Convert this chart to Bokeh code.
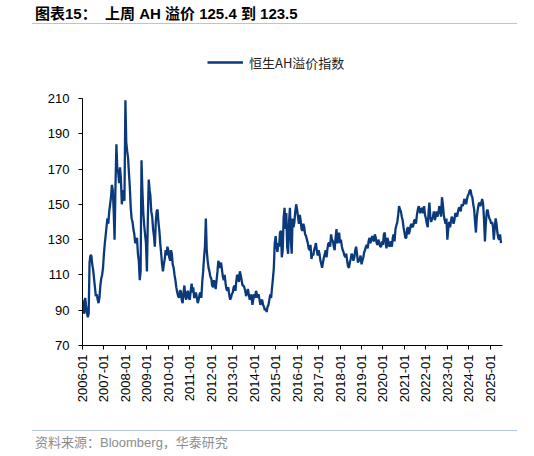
import pandas as pd
from datetime import datetime
from bokeh.plotting import figure
from bokeh.layouts import column
from bokeh.models import Div, Range1d, FixedTicker, DatetimeTickFormatter, Legend, LegendItem
from bokeh.embed import file_html
from bokeh.resources import INLINE

# 恒生AH溢价指数: value at the start of each month ...
ahp_2006 = [96, 88, 93, 86, 117, 121, 113, 103, 99, 94, 104, 110]
ahp_2007 = [122, 133, 142, 146, 154, 158, 130, 184, 168, 171, 150, 158]
ahp_2008 = [209, 180, 168, 148, 140, 133, 129, 122, 107, 175, 145, 133]
ahp_2009 = [112, 164, 155, 143, 132, 140, 147, 135, 122, 112, 119, 121]
ahp_2010 = [124, 118, 122, 114, 107, 100, 97, 101, 94, 104, 96, 101]
ahp_2011 = [96, 105, 103, 98, 97, 96, 100, 106, 120, 142, 118, 112]
ahp_2012 = [108, 103, 105, 107, 118, 114, 113, 107, 105, 101, 99, 97]
ahp_2013 = [100, 104, 106, 109, 112, 107, 104, 101, 100, 99, 97, 93]
ahp_2014 = [99, 101, 97, 96, 95, 93, 90, 89, 93, 99, 103, 114]
ahp_2015 = [132, 123, 126, 135, 124, 148, 145, 122, 148, 122, 137, 146]
ahp_2016 = [147, 139, 141, 135, 137, 132, 128, 124, 119, 121, 126, 124]
ahp_2017 = [124, 118, 114, 120, 124, 125, 128, 133, 129, 124, 136, 130]
ahp_2018 = [128, 126, 123, 120, 118, 114, 119, 121, 120, 126, 117, 119]
ahp_2019 = [116, 120, 124, 127, 129, 128, 132, 129, 131, 127, 128, 126]
ahp_2020 = [127, 134, 125, 129, 127, 126, 133, 136, 140, 149, 146, 141]
ahp_2021 = [134, 131, 137, 135, 139, 138, 141, 144, 149, 145, 147, 149]
ahp_2022 = [142, 137, 151, 140, 143, 141, 146, 145, 147, 154, 144, 139]
ahp_2023 = [130, 140, 140, 142, 141, 144, 146, 148, 150, 150, 152, 153]
ahp_2024 = [156, 158, 154, 147, 134, 147, 151, 151, 150, 129, 146, 144]
ahp_2025 = [141, 140, 130, 142, 134, 130, 128]

# ... and around the middle of each month (the wiggle between those points)
mid_2006 = [91, 97, 89, 88, 121, 116, 108, 98, 96, 97, 108, 114]
mid_2007 = [128, 138, 139, 150, 161, 146, 160, 170, 162, 165, 155, 152]
mid_2008 = [185, 176, 160, 142, 136, 128, 131, 118, 112, 158, 138, 128]
mid_2009 = [140, 158, 146, 136, 126, 146, 140, 128, 116, 116, 124, 126]
mid_2010 = [120, 124, 116, 110, 103, 98, 101, 96, 100, 98, 100, 97]
mid_2011 = [101, 100, 97, 100, 94, 99, 97, 112, 126, 124, 114, 109]
mid_2012 = [104, 107, 102, 112, 116, 117, 109, 110, 102, 103, 96, 99]
mid_2013 = [103, 101, 110, 106, 110, 104, 103, 98, 102, 96, 99, 96]
mid_2014 = [97, 99, 99, 93, 96, 92, 91, 92, 96, 97, 108, 128]
mid_2015 = [126, 128, 134, 120, 142, 136, 126, 140, 130, 142, 140, 150]
mid_2016 = [143, 144, 136, 139, 133, 130, 125, 127, 122, 124, 128, 121]
mid_2017 = [122, 116, 117, 122, 120, 128, 126, 130, 126, 131, 128, 134]
mid_2018 = [130, 124, 121, 122, 115, 117, 122, 118, 124, 122, 118, 121]
mid_2019 = [118, 123, 126, 125, 131, 130, 130, 133, 128, 130, 126, 129]
mid_2020 = [133, 128, 131, 126, 129, 131, 129, 138, 144, 147, 143, 137]
mid_2021 = [131, 136, 133, 138, 137, 141, 139, 147, 146, 148, 145, 144]
mid_2022 = [139, 146, 143, 142, 146, 143, 143, 149, 143, 150, 141, 142]
mid_2023 = [136, 137, 143, 139, 145, 143, 148, 146, 149, 153, 150, 155]
mid_2024 = [158, 155, 150, 140, 143, 150, 149, 153, 141, 139, 147, 142]
mid_2025 = [139, 137, 136, 139, 131, 133]

tick_years = list(range(2006, 2026))
y_ticks = [70, 90, 110, 130, 150, 170, 190, 210]

starts = (ahp_2006 + ahp_2007 + ahp_2008 + ahp_2009 + ahp_2010 + ahp_2011 + ahp_2012
          + ahp_2013 + ahp_2014 + ahp_2015 + ahp_2016 + ahp_2017 + ahp_2018 + ahp_2019
          + ahp_2020 + ahp_2021 + ahp_2022 + ahp_2023 + ahp_2024 + ahp_2025)
mids = (mid_2006 + mid_2007 + mid_2008 + mid_2009 + mid_2010 + mid_2011 + mid_2012
        + mid_2013 + mid_2014 + mid_2015 + mid_2016 + mid_2017 + mid_2018 + mid_2019
        + mid_2020 + mid_2021 + mid_2022 + mid_2023 + mid_2024 + mid_2025)
month_starts = pd.date_range("2006-01-01", periods=len(starts), freq="MS")

dates, values = [], []
for i, d in enumerate(month_starts):
    dates.append(d)
    values.append(starts[i])
    if i < len(mids):
        dates.append(d + pd.Timedelta(days=15))
        values.append(mids[i])

NAVY = "#0b3a7c"
RULE = "#b4c6dc"

title = Div(
    text='<div style="margin-left:32px;width:485px;height:24px;padding:8px 0 0 3px;'
         'border-bottom:1px solid %s;font:bold 15px \'Liberation Sans\',\'Noto Sans CJK SC\';'
         'line-height:12px;color:#000;white-space:pre;">图表15：  上周 AH 溢价 125.4 到 123.5</div>' % RULE,
    width=534, height=27, margin=0)

# frame runs up to 240 so the legend can sit inside it; the axis itself stops at 210
p = figure(width=518, height=400, x_axis_type="datetime",
           output_backend="svg", toolbar_location=None,
           min_border_left=82, min_border_right=16,
           min_border_top=18, min_border_bottom=82, margin=0)
p.x_range = Range1d(datetime(2006, 1, 1), datetime(2025, 7, 27))
p.y_range = Range1d(70, 240)
p.outline_line_color = None
p.grid.grid_line_color = None

r = p.line(dates, values, line_color=NAVY, line_width=2.3)

p.xaxis.ticker = FixedTicker(ticks=[pd.Timestamp(f"{y}-01-01").timestamp() * 1000 for y in tick_years])
p.xaxis.formatter = DatetimeTickFormatter(years="%Y-%m", months="%Y-%m", days="%Y-%m")
p.xaxis.major_label_orientation = 3.14159 / 2
p.yaxis.ticker = FixedTicker(ticks=y_ticks)
p.yaxis.bounds = (70, 210)

for ax in (p.xaxis[0], p.yaxis[0]):
    ax.axis_line_color = "black"
    ax.major_tick_line_color = "black"
    ax.minor_tick_line_color = None
    ax.major_tick_out = 4
    ax.major_tick_in = 0
    ax.major_label_text_font = "Liberation Sans"
    ax.major_label_text_font_size = "13px"
    ax.major_label_text_color = "black"
p.xaxis.major_label_standoff = 5
p.yaxis.major_label_standoff = 9

legend = Legend(items=[LegendItem(label="恒生AH溢价指数", renderers=[r])],
                location=(125, 273), orientation="horizontal",
                glyph_width=36, glyph_height=20, label_standoff=6,
                padding=0, spacing=0, margin=0,
                border_line_color=None, background_fill_alpha=0,
                label_text_font="Noto Sans CJK SC", label_text_font_size="13px",
                label_text_color="#222222")
p.add_layout(legend)

source = Div(
    text='<div style="margin:3px 0 0 32px;width:485px;border-top:1px solid %s;'
         'padding:4px 0 0 3px;font:13px \'Liberation Sans\',\'Noto Sans CJK SC\';'
         'line-height:16px;color:#8c8c8c;">资料来源：Bloomberg，华泰研究</div>' % RULE,
    width=534, height=29, margin=0)

layout = column(title, p, source, spacing=0)
open("out.html", "w").write(file_html(layout, INLINE))
